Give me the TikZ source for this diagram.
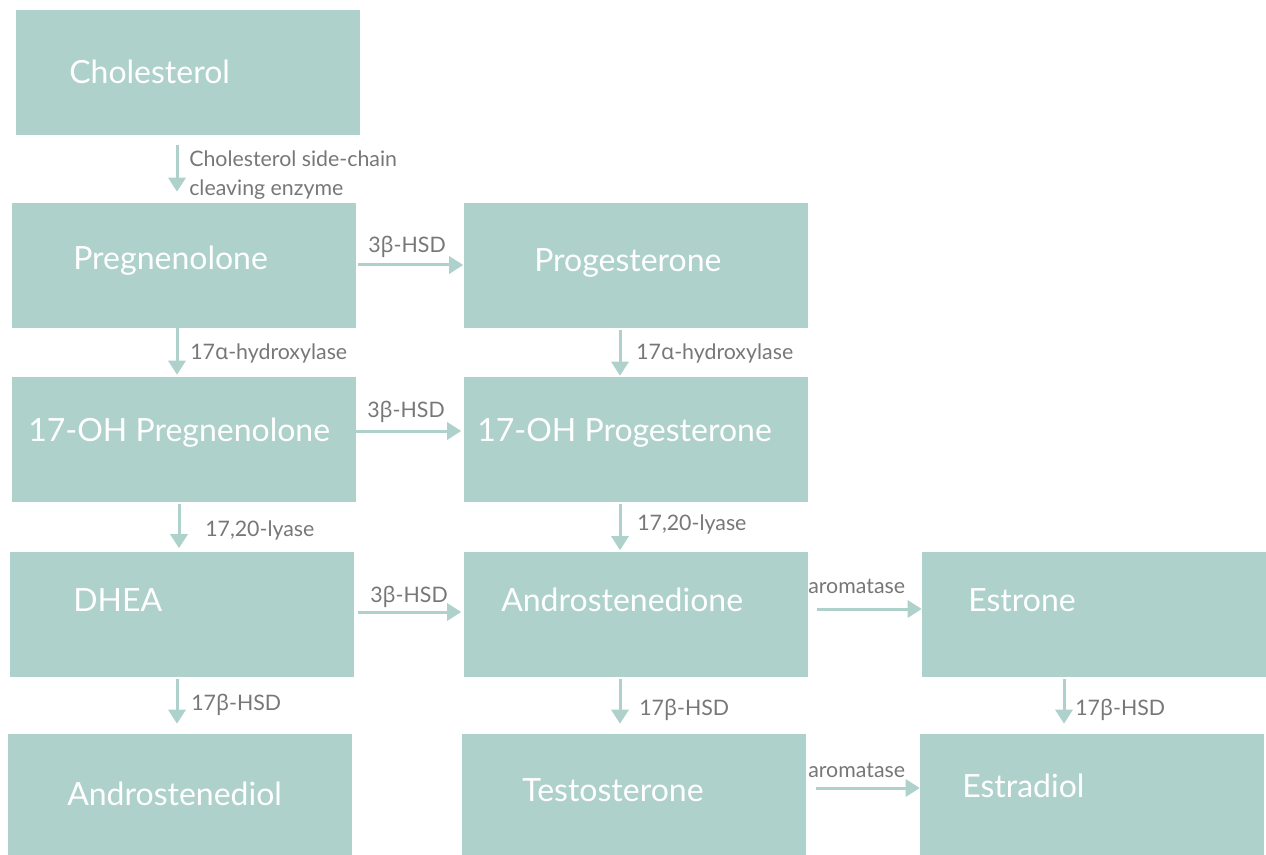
\documentclass[tikz,border=0pt]{standalone}
\usepackage{fontspec}
\setmainfont{Lato}
\newfontfamily\grk{Noto Sans}
\usetikzlibrary{arrows.meta}
\definecolor{boxfill}{HTML}{AED1CB}
\definecolor{labgray}{HTML}{777777}
\newcommand\pu{0.75pt}
\newcommand\galpha{{\grk α}}
\newcommand\gbeta{{\grk β}}
\tikzset{
  stepbox/.style={fill=boxfill, draw=none, minimum width=344*\pu, minimum height=125*\pu, inner sep=0pt},
  boxtext/.style={anchor=west, text=white, font=\fontsize{24}{28}\selectfont, inner sep=0pt, text height=17pt, text depth=0pt},
  enz/.style={anchor=west, text=labgray, font=\fontsize{16}{22}\selectfont, inner sep=0pt, align=left},
  enzone/.style={enz, text height=11.5pt, text depth=0pt},
  arr/.style={draw=boxfill, line width=3*\pu, -{Triangle[length=14*\pu, width=17*\pu]}},
}
\begin{document}
\begin{tikzpicture}[x=0.75pt, y=-0.75pt]
\useasboundingbox (0,0) rectangle (1266,855);

% boxes
\node[stepbox] (chol)   at (188,72.5) {};
\node[stepbox] (preg)   at (184,265.5) {};
\node[stepbox] (prog)   at (635.5,265.5) {};
\node[stepbox] (ohpreg) at (184,439.5) {};
\node[stepbox] (ohprog) at (635.5,439.5) {};
\node[stepbox] (dhea)   at (182,614) {};
\node[stepbox] (andro)  at (635.5,614) {};
\node[stepbox] (estr)   at (1094,614) {};
\node[stepbox, minimum height=121*\pu] (adiol) at (180,794.5) {};
\node[stepbox, minimum height=121*\pu] (testo) at (634,794.5) {};
\node[stepbox, minimum height=121*\pu] (e2)    at (1092,794.5) {};

% box titles
\node[boxtext] (tchol)   at (69,72)   {Cholesterol};
\node[boxtext] (tpreg)   at (73,258)  {Pregnenolone};
\node[boxtext] (tprog)   at (534,260) {Progesterone};
\node[boxtext] (tohpreg) at (28,430)  {17-OH Pregnenolone};
\node[boxtext] (tohprog) at (477,430) {17-OH Progesterone};
\node[boxtext] (tdhea)   at (73,600)  {DHEA};
\node[boxtext] (tandro)  at (501,600) {Androstenedione};
\node[boxtext] (testr)   at (968,600) {Estrone};
\node[boxtext] (tadiol)  at (67,794)  {Androstenediol};
\node[boxtext] (ttesto)  at (522,790) {Testosterone};
\node[boxtext] (te2)     at (962,786) {Estradiol};

% vertical reactions
\draw[arr, shorten <=10*\pu, shorten >=11*\pu] ([xshift=-11*\pu]chol.south) -- ([xshift=-7*\pu]preg.north);
\draw[arr, shorten >=2*\pu] ([xshift=-7*\pu]preg.south) -- ([xshift=-7*\pu]ohpreg.north);
\draw[arr, shorten <=2*\pu, shorten >=1*\pu] ([xshift=-15.5*\pu]prog.south) -- ([xshift=-15.5*\pu]ohprog.north);
\draw[arr, shorten <=2*\pu, shorten >=3*\pu] ([xshift=-5*\pu]ohpreg.south) -- ([xshift=-3*\pu]dhea.north);
\draw[arr, shorten <=2*\pu, shorten >=1*\pu] ([xshift=-15.5*\pu]ohprog.south) -- ([xshift=-15.5*\pu]andro.north);
\draw[arr, shorten <=2*\pu, shorten >=10*\pu] ([xshift=-5*\pu]dhea.south) -- ([xshift=-3*\pu]adiol.north);
\draw[arr, shorten <=2*\pu, shorten >=10*\pu] ([xshift=-15.5*\pu]andro.south) -- ([xshift=-14*\pu]testo.north);
\draw[arr, shorten <=2*\pu, shorten >=10*\pu] ([xshift=-30*\pu]estr.south) -- ([xshift=-28*\pu]e2.north);

% horizontal reactions
\draw[arr, shorten <=2*\pu] ([yshift=0.5*\pu]preg.east) -- ([yshift=0.5*\pu]prog.west);
\draw[arr, shorten >=2*\pu] ([yshift=8.5*\pu]ohpreg.east) -- ([yshift=8.5*\pu]ohprog.west);
\draw[arr, shorten <=4*\pu, shorten >=2*\pu] ([yshift=2*\pu]dhea.east) -- ([yshift=2*\pu]andro.west);
\draw[arr, shorten <=9*\pu] ([yshift=5*\pu]andro.east) -- ([yshift=5*\pu]estr.west);
\draw[arr, shorten <=10*\pu] ([yshift=6.5*\pu]testo.east) -- ([yshift=6.5*\pu]e2.west);

% enzyme labels
\node[enz] (l1)  at (189,175) {Cholesterol side-chain\\cleaving enzyme};
\node[enzone] (l2)  at (190,352) {17\galpha-hydroxylase};
\node[enzone] (l3)  at (636,352) {17\galpha-hydroxylase};
\node[enzone] (l4)  at (205,529) {17,20-lyase};
\node[enzone] (l5)  at (637,523) {17,20-lyase};
\node[enzone] (l6)  at (191,703) {17\gbeta-HSD};
\node[enzone] (l7)  at (639,708) {17\gbeta-HSD};
\node[enzone] (l8)  at (1075,708) {17\gbeta-HSD};
\node[enzone] (l9)  at (368,245) {3\gbeta-HSD};
\node[enzone] (l10) at (367,410) {3\gbeta-HSD};
\node[enzone] (l11) at (370,595) {3\gbeta-HSD};
\node[enzone] (l12) at (808,586) {aromatase};
\node[enzone] (l13) at (808,770) {aromatase};
\end{tikzpicture}
\end{document}
